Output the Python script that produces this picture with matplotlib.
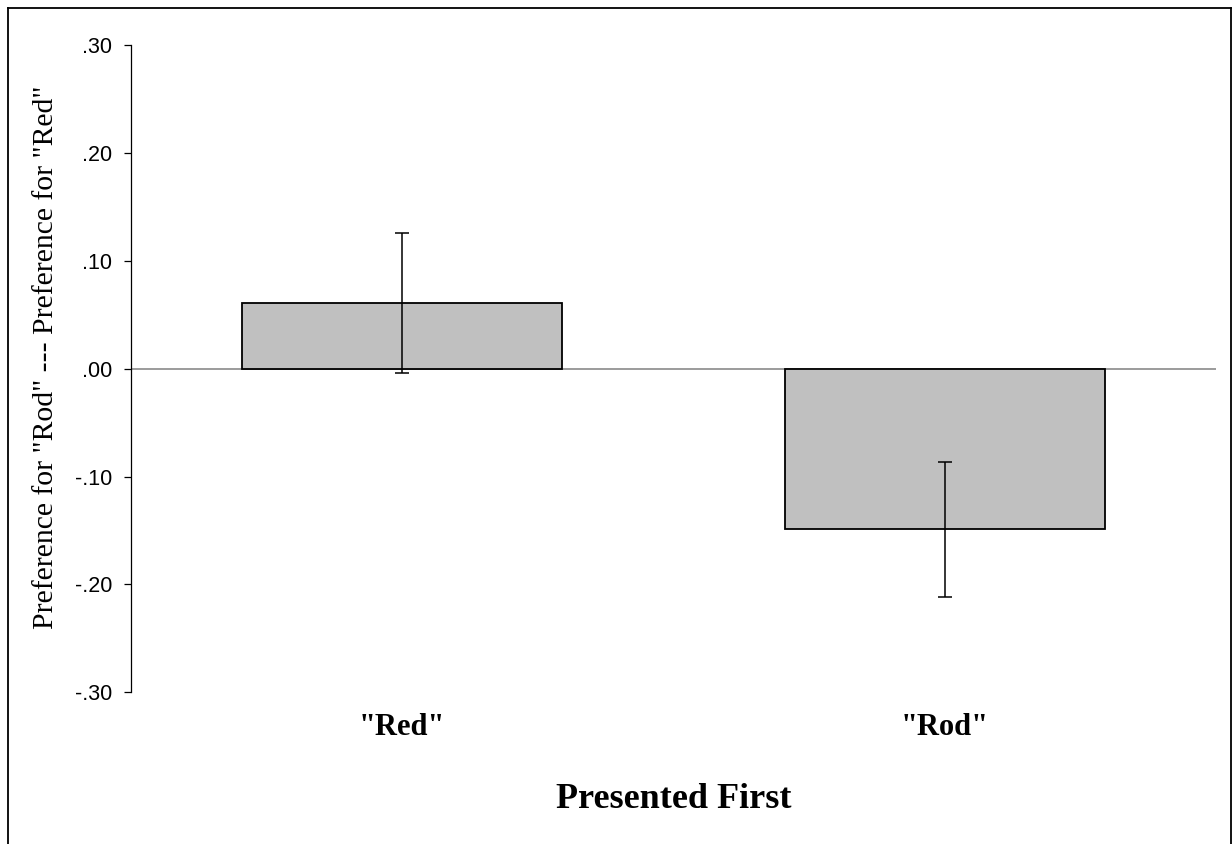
import matplotlib
matplotlib.use("Agg")
import matplotlib.pyplot as plt
from matplotlib.lines import Line2D

categories = ['"Red"', '"Rod"']
values = [0.061, -0.149]
errors = [0.065, 0.0625]
yticks = [-0.30, -0.20, -0.10, 0.00, 0.10, 0.20, 0.30]
ytick_labels = ['-.30', '-.20', '-.10', '.00', '.10', '.20', '.30']

fig = plt.figure(figsize=(12.32, 8.44), dpi=100)
ax = fig.add_axes([131/1232, 1-692.3/844, (1216-131)/1232, (692.3-45)/844])

x = list(range(len(categories)))
ax.bar(x, values, width=0.589, color='#C0C0C0', edgecolor='black', linewidth=1.3, zorder=2)
ax.errorbar(x, values, yerr=errors, fmt='none', ecolor='black', elinewidth=1.1,
            capsize=5, capthick=1.1, zorder=3)
ax.axhline(0, color='#808080', linewidth=1.1, zorder=1)

ax.set_xlim(-0.5, 1.5)
ax.set_ylim(-0.30, 0.30)
ax.set_yticks(yticks)
ax.set_yticklabels(ytick_labels, fontfamily='Liberation Sans', fontsize=15.5)
ax.tick_params(axis='y', length=5, width=0.9, pad=8.5, direction='out', color='black')
ax.set_xticks(x)
ax.set_xticklabels(categories, fontfamily='Liberation Serif', fontweight='bold', fontsize=22)
ax.tick_params(axis='x', length=0, pad=15)

for s in ['top', 'right', 'bottom']:
    ax.spines[s].set_visible(False)
ax.spines['left'].set_linewidth(0.9)

ax.set_ylabel('Preference for "Rod" --- Preference for "Red"', fontfamily='Liberation Serif',
              fontsize=21.3)
ax.yaxis.set_label_coords(59/1232, 1-357/844, transform=fig.transFigure)

fig.text(674/1232, 1-800/844, 'Presented First', fontfamily='Liberation Serif',
         fontweight='bold', fontsize=26, ha='center', va='center')

# outer frame (left, top, right)
W, H = 1232, 844
fx0, fy_top, fx1 = 7.5/W, 1-7.5/H, 1230.5/W
fig.add_artist(Line2D([fx0, fx0], [0, fy_top], transform=fig.transFigure, color='black', linewidth=1.3))
fig.add_artist(Line2D([fx0, fx1], [fy_top, fy_top], transform=fig.transFigure, color='black', linewidth=1.3))
fig.add_artist(Line2D([fx1, fx1], [0, fy_top], transform=fig.transFigure, color='black', linewidth=1.3))

fig.savefig('out.png', dpi=100)
